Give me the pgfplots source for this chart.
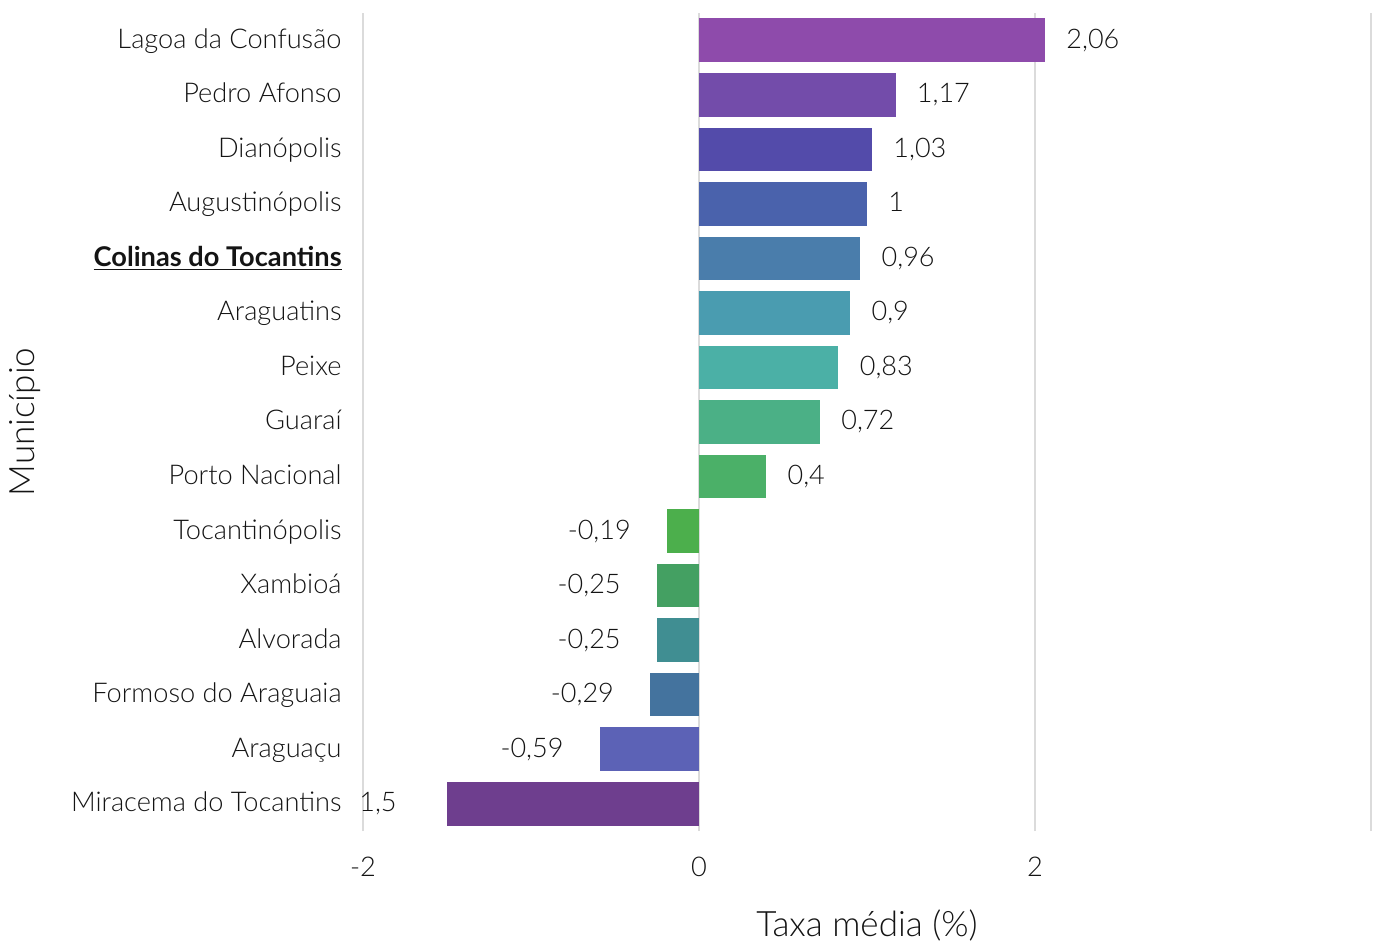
\documentclass[border=0pt]{standalone}
\usepackage{fontspec}
\setmainfont{Lato}[UprightFont={* Light}, BoldFont={* Bold}]
\usepackage{pgfplots}
\pgfplotsset{compat=1.18}
\definecolor{c1}{HTML}{8E4BAB}
\definecolor{c2}{HTML}{734CAA}
\definecolor{c3}{HTML}{534BAA}
\definecolor{c4}{HTML}{4A62AC}
\definecolor{c5}{HTML}{4A7DAB}
\definecolor{c6}{HTML}{4A9CB0}
\definecolor{c7}{HTML}{4BB0A6}
\definecolor{c8}{HTML}{4BB086}
\definecolor{c9}{HTML}{4BB068}
\definecolor{c10}{HTML}{4CAF4C}
\definecolor{c11}{HTML}{44A062}
\definecolor{c12}{HTML}{408E92}
\definecolor{c13}{HTML}{44739E}
\definecolor{c14}{HTML}{5C62B6}
\definecolor{c15}{HTML}{6E3E8E}
\tikzset{lblpos/.style={anchor=base west, xshift=10.5pt, yshift=-4pt}, lblneg/.style={anchor=base east, xshift=-18pt, yshift=-4pt}, lblmir/.style={anchor=base west, xshift=-44pt, yshift=-4pt}}
\newcommand\mybar[5]{\addplot[fill=#1, draw=none, nodes near coords={#4}, nodes near coords style={#5}] coordinates {(#2,#3)};}
\begin{document}
\begin{tikzpicture}
\begin{axis}[
  at={(0,0)}, anchor=south west, scale only axis,
  width=504pt, height=409pt,
  xmin=-2, xmax=4, ymin=-0.5, ymax=14.5,
  xbar, bar shift=0pt, bar width=0.8,
  axis line style={draw=none}, major tick length=0pt, tick style={draw=none},
  xmajorgrids, grid style={black!14, line width=1pt},
  xtick={-2,0,2,4}, xticklabels={-2,0,2,{}},
  ytick={0,...,14},
  yticklabels={Miracema do Tocantins, Araguaçu, Formoso do Araguaia, Alvorada, Xambioá, Tocantinópolis, Porto Nacional, Guaraí, Peixe, Araguatins, {\underline{\textbf{Colinas do Tocantins}}}, Augustinópolis, Dianópolis, Pedro Afonso, Lagoa da Confusão},
  ticklabel style={font=\fontsize{13.6}{16}\selectfont, text=black!92},
  yticklabel style={anchor=base east, inner sep=0pt, xshift=-10.5pt, yshift=-4pt},
  xticklabel style={anchor=north, inner sep=0pt, yshift=-13pt},
  every node near coord/.append style={font=\fontsize{13.5}{16}\selectfont, text=black!92, inner sep=0pt},
  xlabel={Taxa média (\%)},
  xlabel style={at={(axis description cs:0.5,0)}, anchor=center, yshift=-47pt, font=\fontsize{17.5}{20}\selectfont, text=black!92},
  ylabel={Município},
  ylabel style={at={(axis description cs:-0.3353,0.5)}, anchor=center, font=\fontsize{17.5}{20}\selectfont, text=black!92},
]
\mybar{c1}{2.06}{14}{2,06}{lblpos}
\mybar{c2}{1.17}{13}{1,17}{lblpos}
\mybar{c3}{1.03}{12}{1,03}{lblpos}
\mybar{c4}{1.00}{11}{1}{lblpos}
\mybar{c5}{0.96}{10}{0,96}{lblpos}
\mybar{c6}{0.90}{9}{0,9}{lblpos}
\mybar{c7}{0.83}{8}{0,83}{lblpos}
\mybar{c8}{0.72}{7}{0,72}{lblpos}
\mybar{c9}{0.40}{6}{0,4}{lblpos}
\mybar{c10}{-0.19}{5}{-0,19}{lblneg}
\mybar{c11}{-0.25}{4}{-0,25}{lblneg}
\mybar{c12}{-0.25}{3}{-0,25}{lblneg}
\mybar{c13}{-0.29}{2}{-0,29}{lblneg}
\mybar{c14}{-0.59}{1}{-0,59}{lblneg}
\mybar{c15}{-1.5}{0}{1,5}{lblmir}
\end{axis}
\path[use as bounding box] (-181.5pt,-55pt) rectangle (506pt,415.5pt);
\end{tikzpicture}
\end{document}
